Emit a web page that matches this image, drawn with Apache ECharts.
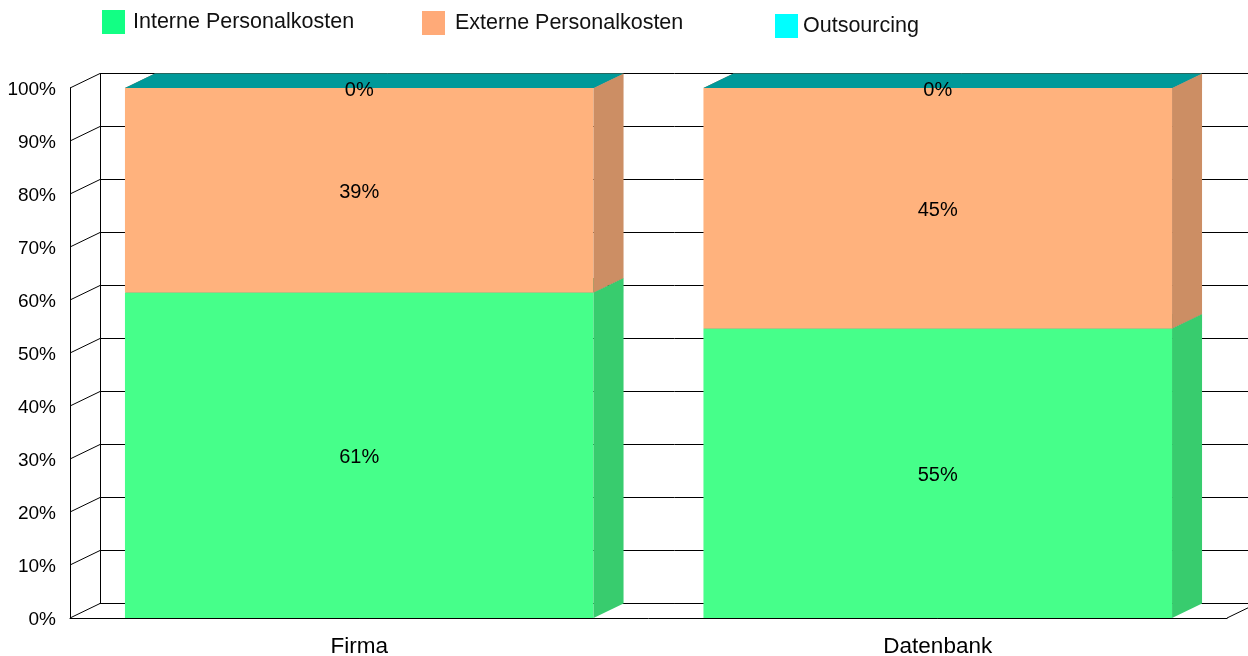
<!DOCTYPE html>
<html>
<head>
<meta charset="utf-8">
<script src="https://cdn.jsdelivr.net/npm/echarts@6/dist/echarts.min.js"></script>
<style>
  html, body { margin: 0; padding: 0; background: #fff; }
  #chart { width: 1248px; height: 656px; }
</style>
</head>
<body>
<div id="chart"></div>
<script>
// data
const categories = ['Firma', 'Datenbank']
const seriesNames = ['Interne Personalkosten', 'Externe Personalkosten', 'Outsourcing']
const interne = [61.4, 54.6]
const externe = [38.6, 45.4]
const outsourcing = [0, 0]
const yTicks = [0, 10, 20, 30, 40, 50, 60, 70, 80, 90, 100]

const faceColors = ['#46FF8A', '#FFB27D', '#00FFFF']
const legendColors = ['#12FF84', '#FFAA78', '#00FFFF']
const depthX = 30
const depthY = 14.5

function shade(hex, f) {
  const n = parseInt(hex.slice(1), 16)
  const r = Math.round(((n >> 16) & 255) * f)
  const g = Math.round(((n >> 8) & 255) * f)
  const b = Math.round((n & 255) * f)
  return 'rgb(' + r + ',' + g + ',' + b + ')'
}

// stacked bases
const stacks = [interne, externe, outsourcing]
const seriesData = stacks.map((vals, si) =>
  vals.map((v, ci) => {
    let base = 0
    for (let k = 0; k < si; k++) base += stacks[k][ci]
    return [ci, base, v]
  })
)

function barRenderer(color) {
  return function (params, api) {
    const ci = api.value(0)
    const base = api.value(1)
    const val = api.value(2)
    const p0 = api.coord([ci, base])
    const p1 = api.coord([ci, base + val])
    const bw = api.size([1, 0])[0] * 0.81
    const x0 = p0[0] - bw / 2
    const x1 = p0[0] + bw / 2
    const yb = p0[1]
    const yt = p1[1]
    return {
      type: 'group',
      children: [
        {
          type: 'rect',
          shape: { x: x0, y: yt, width: bw, height: yb - yt },
          style: { fill: color }
        },
        {
          type: 'polygon',
          shape: { points: [[x1, yb], [x1, yt], [x1 + depthX, yt - depthY], [x1 + depthX, yb - depthY]] },
          style: { fill: shade(color, 0.8) }
        },
        {
          type: 'polygon',
          shape: { points: [[x0, yt], [x1, yt], [x1 + depthX, yt - depthY], [x0 + depthX, yt - depthY]] },
          style: { fill: shade(color, 0.6) }
        },
        {
          type: 'text',
          style: {
            text: Math.round(val) + '%',
            x: p0[0],
            y: (yb + yt) / 2 + 2,
            align: 'center',
            verticalAlign: 'middle',
            fontSize: 20,
            fontFamily: 'Liberation Sans, Arial, sans-serif',
            fill: '#000'
          }
        }
      ]
    }
  }
}

const chart = echarts.init(document.getElementById('chart'))

const legendPos = [
  { left: 102, top: 10, pad: 3 },
  { left: 422, top: 11, pad: 5 },
  { left: 775, top: 14, pad: 0 }
]

const options = {
  backgroundColor: '#fff',
  animation: false,
  legend: seriesNames.map((name, i) => ({
    data: [{ name: name, icon: 'rect', itemStyle: { color: legendColors[i] } }],
    left: legendPos[i].left,
    top: legendPos[i].top,
    padding: 0,
    itemWidth: 23,
    itemHeight: 24,
    selectedMode: false,
    textStyle: {
      fontSize: 21.5,
      color: '#111',
      fontFamily: 'Liberation Sans, Arial, sans-serif',
      padding: [2, 0, 0, legendPos[i].pad]
    }
  })),
  grid: [
    { left: 70, top: 88, width: 1157, height: 530, outerBoundsMode: 'none' },
    { left: 100, top: 73.5, width: 1157, height: 530, outerBoundsMode: 'none' }
  ],
  xAxis: [
    {
      type: 'category',
      gridIndex: 0,
      data: categories,
      axisLine: { show: true, lineStyle: { color: '#000', width: 1 } },
      axisTick: { show: false },
      axisLabel: {
        fontSize: 22.5,
        color: '#000',
        margin: 17,
        fontFamily: 'Liberation Sans, Arial, sans-serif'
      },
      splitLine: { show: false }
    },
    {
      type: 'category',
      gridIndex: 1,
      data: categories,
      axisLine: { show: true, lineStyle: { color: '#000', width: 1 } },
      axisTick: { show: false },
      axisLabel: { show: false },
      splitLine: { show: false }
    }
  ],
  yAxis: [
    {
      type: 'value',
      gridIndex: 0,
      min: 0,
      max: 100,
      interval: 10,
      axisLine: { show: true, lineStyle: { color: '#000', width: 1 } },
      axisTick: { show: false },
      splitLine: { show: false },
      axisLabel: {
        formatter: '{p|{value}%}',
        color: '#000',
        margin: 14,
        rich: {
          p: {
            fontSize: 19,
            color: '#000',
            padding: [4, 0, 0, 0],
            fontFamily: 'Liberation Sans, Arial, sans-serif'
          }
        }
      }
    },
    {
      type: 'value',
      gridIndex: 1,
      min: 0,
      max: 100,
      interval: 10,
      axisLine: { show: true, lineStyle: { color: '#000', width: 1 } },
      axisTick: { show: false },
      axisLabel: { show: false },
      splitLine: { show: true, lineStyle: { color: '#000', width: 1 } }
    }
  ],
  series: [
    {
      // diagonal connectors from the front axis to the back wall
      type: 'custom',
      xAxisIndex: 0,
      yAxisIndex: 0,
      silent: true,
      z: 1,
      data: yTicks.map(v => [0, v]),
      renderItem: function (params, api) {
        const cs = params.coordSys
        const y = api.coord([0, api.value(1)])[1]
        const children = [{
          type: 'line',
          shape: { x1: cs.x, y1: y, x2: cs.x + depthX, y2: y - depthY },
          style: { stroke: '#000', lineWidth: 1 }
        }]
        if (api.value(1) === 0) {
          children.push({
            type: 'line',
            shape: { x1: cs.x + cs.width, y1: y, x2: cs.x + cs.width + depthX, y2: y - depthY },
            style: { stroke: '#000', lineWidth: 1 }
          })
        }
        return { type: 'group', children: children }
      }
    }
  ].concat(seriesNames.map((name, i) => ({
    name: name,
    type: 'custom',
    xAxisIndex: 0,
    yAxisIndex: 0,
    z: 2 + i,
    itemStyle: { color: legendColors[i] },
    encode: { x: 0, y: [1, 2] },
    data: seriesData[i],
    renderItem: barRenderer(faceColors[i])
  })))
}

chart.setOption(options)
</script>
</body>
</html>
